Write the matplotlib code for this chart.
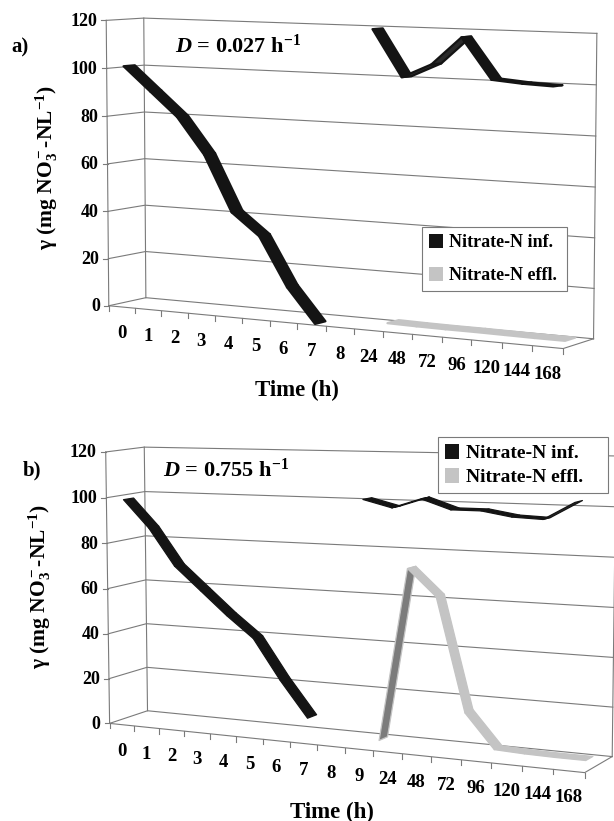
import numpy as np
import matplotlib
matplotlib.use('Agg')
import matplotlib.pyplot as plt
from matplotlib.patches import Polygon, Patch

plt.rcParams['font.family'] = 'Liberation Serif'
plt.rcParams['font.weight'] = 'bold'
plt.rcParams['mathtext.fontset'] = 'custom'
plt.rcParams['mathtext.rm'] = 'Liberation Serif:bold'
plt.rcParams['mathtext.it'] = 'Liberation Serif:italic:bold'
plt.rcParams['mathtext.bf'] = 'Liberation Serif:bold'

nan = np.nan

# ---- data (mg NO3-N / L) ----
yticks = [0, 20, 40, 60, 80, 100, 120]

cats_a = ['0', '1', '2', '3', '4', '5', '6', '7', '8', '24', '48', '72', '96', '120', '144', '168']
inf_a = [101, 91, 81, 66, 43, 34, 14, 0, nan, 120, 101.5, 107, 118, 102, 101, 100.5]
eff_a = [nan, nan, nan, nan, nan, nan, nan, nan, nan, 0.8, 0.6, 0.5, 0.5, 0.4, 0.3, 0.3]

cats_b = ['0', '1', '2', '3', '4', '5', '6', '7', '8', '9', '24', '48', '72', '96', '120', '144', '168']
inf_b = [99, 87, 71, 61, 51, 42, 25, 10, nan, 102.5, 99.5, 103.5, 99.5, 99.5, 97.5, 97, 104]
eff_b = [nan, nan, nan, nan, nan, nan, nan, nan, nan, 0, 73, 62, 15, 1, 0.5, 0.3, 0.3]

# ---- 3-D frame of each panel: (category, value, depth) corner -> pixel ----
frame_a = [((0, 0, 0), (108, 306)), ((0, 1, 0), (106, 21)), ((0, 0, 1), (146, 297)),
           ((0, 1, 1), (144, 18)), ((1, 0, 1), (593, 340)), ((1, 1, 1), (597, 33)),
           ((1, 0, 0), (563, 348)), ((1, 1, 0), (566, 36)), ((0.5, 0, 0), (327, 326))]
frame_b = [((0, 0, 0), (111, 722)), ((0, 1, 0), (106, 450)), ((0, 0, 1), (147, 713)),
           ((0, 1, 1), (144, 448)), ((1, 0, 1), (613, 753)), ((1, 1, 1), (616, 456)),
           ((1, 0, 0), (585, 775)), ((1, 1, 0), (588, 463)), ((9 / 17, 0, 0), (343, 748))]

INF_COL, INF_BACK = '#141414', '#2a2a2a'
EFF_COL, EFF_BACK = '#c4c4c4', '#7c7c7c'
GRID = '#7a7a7a'


def fit_camera(pairs):
    rows = []
    for (X, Y, Z), (px, py) in pairs:
        x, y = px / 600, py / 600
        rows.append([X, Y, Z, 1, 0, 0, 0, 0, -x * X, -x * Y, -x * Z, -x])
        rows.append([0, 0, 0, 0, X, Y, Z, 1, -y * X, -y * Y, -y * Z, -y])
    _, _, vt = np.linalg.svd(np.array(rows, dtype=float))
    P = vt[-1].reshape(3, 4)

    def proj(X, Y, Z):
        h = P @ np.array([X, Y, Z, 1.0])
        return h[0] / h[2] * 600, h[1] / h[2] * 600
    return proj


def path(ax, proj, pts, **kw):
    xy = np.array([proj(*p) for p in pts])
    ax.plot(xy[:, 0], xy[:, 1], **kw)


def ribbon(ax, proj, vals, n, z0, z1, col, back, lw):
    for i in range(n - 1):
        if np.isnan(vals[i]) or np.isnan(vals[i + 1]):
            continue
        u0, u1 = (i + 0.5) / n, (i + 1.5) / n
        y0, y1 = vals[i] / 120, vals[i + 1] / 120
        a0, b0 = np.array(proj(u0, y0, z0)), np.array(proj(u1, y1, z0))
        a1 = np.array(proj(u0, y0, z1))
        d1, d2 = b0 - a0, a1 - a0
        face = col if d1[0] * d2[1] - d1[1] * d2[0] < 0 else back
        poly = [proj(u0, y0, z0), proj(u1, y1, z0), proj(u1, y1, z1), proj(u0, y0, z1)]
        ax.add_patch(Polygon(poly, closed=True, facecolor=face, edgecolor=col,
                             lw=lw, joinstyle='round', zorder=3))


def draw_panel(ax, frame, cats, inf, eff, z_inf, z_eff, lw):
    proj = fit_camera(frame)
    n = len(cats)
    gk = dict(color=GRID, lw=0.8, zorder=1)
    for v in yticks:
        Y = v / 120
        path(ax, proj, [(0, Y, 0), (0, Y, 1), (1, Y, 1)], **gk)
    path(ax, proj, [(0, 0, 0), (0, 1, 0)], **gk)
    path(ax, proj, [(0, 0, 1), (0, 1, 1)], **gk)
    path(ax, proj, [(1, 0, 1), (1, 1, 1)], **gk)
    path(ax, proj, [(0, 0, 0), (1, 0, 0), (1, 0, 1)], **gk)

    for k in range(n + 1):
        x, y = proj(k / n, 0, 0)
        ax.plot([x, x], [y, y + 5], **gk)
    for v in yticks:
        x, y = proj(0, v / 120, 0)
        ax.plot([x - 5, x], [y, y], **gk)
        ax.text(x - 9, y + 1, str(v), ha='right', va='center', fontsize=13)
    for i, c in enumerate(cats):
        x, y = proj((i + 0.5) / n, 0, 0)
        ax.text(x, y + 27, c, ha='center', va='center', fontsize=13.5)

    # effluent row sits behind the influent row
    ribbon(ax, proj, eff, n, z_eff[0], z_eff[1], EFF_COL, EFF_BACK, lw)
    ribbon(ax, proj, inf, n, z_inf[0], z_inf[1], INF_COL, INF_BACK, lw)


fig = plt.figure(figsize=(6.14, 8.21), dpi=100)
ax = fig.add_axes([0, 0, 1, 1])
ax.set_xlim(0, 614)
ax.set_ylim(821, 0)
ax.axis('off')

draw_panel(ax, frame_a, cats_a, inf_a, eff_a, (0.1, 0.4), (0.56, 0.9), 1.6)
draw_panel(ax, frame_b, cats_b, inf_b, eff_b, (0.12, 0.38), (0.6, 0.86), 0.9)

ylab = 'γ (mg NO$_3^-$-NL$^{-1}$)'
ax.text(47, 168, ylab, rotation=90, ha='center', va='center', fontsize=15.5)
ax.text(40, 587, ylab, rotation=90, ha='center', va='center', fontsize=15.5)
ax.text(297, 390, 'Time (h)', ha='center', va='center', fontsize=16.5)
ax.text(332, 812, 'Time (h)', ha='center', va='center', fontsize=16.5)
ax.text(20, 47, 'a)', ha='center', va='center', fontsize=15)
ax.text(32, 470, 'b)', ha='center', va='center', fontsize=15)
ax.text(175, 46, r'$\mathit{D}$ = 0.027 h$^{-1}$', ha='left', va='center', fontsize=16)
ax.text(163, 470, r'$\mathit{D}$ = 0.755 h$^{-1}$', ha='left', va='center', fontsize=16)

handles = [Patch(facecolor=INF_COL, edgecolor='none', label='Nitrate-N inf.'),
           Patch(facecolor=EFF_COL, edgecolor='none', label='Nitrate-N effl.')]
lk = dict(handles=handles, loc='upper left', mode='expand', frameon=True, fancybox=False,
          edgecolor='#7a7a7a', framealpha=1, handlelength=0.75, handleheight=0.8,
          handletextpad=0.35, borderaxespad=0)
leg = ax.legend(bbox_to_anchor=(422 / 614, 1 - 290 / 821, 145 / 614, 63 / 821),
                labelspacing=0.85, borderpad=0.4, prop={'weight': 'bold', 'size': 13}, **lk)
leg.get_frame().set_linewidth(0.8)
ax.add_artist(leg)
leg2 = ax.legend(bbox_to_anchor=(438 / 614, 1 - 493 / 821, 170 / 614, 56 / 821),
                 labelspacing=0.3, borderpad=0.35, prop={'weight': 'bold', 'size': 14}, **lk)
leg2.get_frame().set_linewidth(0.8)

fig.savefig('out.png', dpi=100)
